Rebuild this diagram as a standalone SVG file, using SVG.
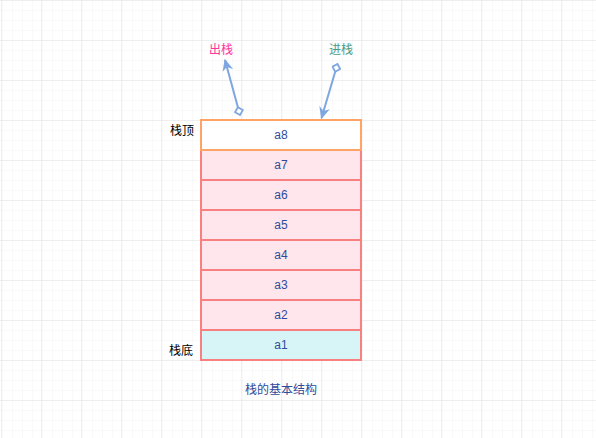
<svg xmlns="http://www.w3.org/2000/svg" width="596" height="438" viewBox="0 0 596 438">
<defs>
<pattern id="minor" width="10" height="10" patternUnits="userSpaceOnUse" x="1" y="0">
<path d="M0 0H10M0 0V10" fill="none" stroke="#f3f3f3" stroke-width="1"/>
</pattern>
<pattern id="major" width="40" height="40" patternUnits="userSpaceOnUse" x="1" y="0">
<rect width="40" height="40" fill="url(#minor)"/>
<path d="M0 0H40M0 0V40" fill="none" stroke="#e2e2e2" stroke-width="1"/>
</pattern>
<marker id="arr" viewBox="0 0 10 10" refX="9" refY="5" markerWidth="6" markerHeight="6" orient="auto" markerUnits="strokeWidth">
<path d="M0 0.5L10 5L0 9.5L3 5Z" fill="#7EA6E0"/>
</marker>
<marker id="dia" viewBox="0 0 10 10" refX="1" refY="5" markerWidth="5" markerHeight="5" orient="auto" markerUnits="strokeWidth">
<path d="M1 5L5 1L9 5L5 9Z" fill="#ffffff" stroke="#7EA6E0" stroke-width="1.8"/>
</marker>
</defs>
<style>
text{font-family:"Liberation Sans","Noto Sans CJK SC",sans-serif;font-size:12px;text-anchor:middle;dominant-baseline:central}
.cell{stroke:#F88080;stroke-width:2;fill:#FFE6EC}
.t{fill:#2F4A9A}
.edge{stroke:#7EA6E0;stroke-width:2;fill:none}
</style>
<rect width="596" height="438" fill="#ffffff"/>
<rect width="596" height="438" fill="url(#major)"/>
<g id="connectors">
<path class="edge" d="M240 115L225 60" marker-start="url(#dia)" marker-end="url(#arr)"/>
<path class="edge" d="M337.5 64L321.5 118" marker-start="url(#dia)" marker-end="url(#arr)"/>
</g>
<g id="a7"><rect class="cell" x="201" y="150" width="160" height="30"/><text class="t" x="281" y="165">a7</text></g>
<g id="a6"><rect class="cell" x="201" y="180" width="160" height="30"/><text class="t" x="281" y="195">a6</text></g>
<g id="a5"><rect class="cell" x="201" y="210" width="160" height="30"/><text class="t" x="281" y="225">a5</text></g>
<g id="a4"><rect class="cell" x="201" y="240" width="160" height="30"/><text class="t" x="281" y="255">a4</text></g>
<g id="a3"><rect class="cell" x="201" y="270" width="160" height="30"/><text class="t" x="281" y="285">a3</text></g>
<g id="a2"><rect class="cell" x="201" y="300" width="160" height="30"/><text class="t" x="281" y="315">a2</text></g>
<g id="a1"><rect class="cell" x="201" y="330" width="160" height="30" style="fill:#D7F5F7"/><text class="t" x="281" y="345">a1</text></g>
<g id="a8"><rect x="201" y="120" width="160" height="30" fill="#ffffff" stroke="#FFA366" stroke-width="2"/><text class="t" x="281" y="135">a8</text></g>
<g id="label-pop"><text x="221" y="50" fill="#FF3399">出栈</text></g>
<g id="label-push"><text x="341" y="50" fill="#4C9A86">进栈</text></g>
<g id="label-top"><text x="182" y="131" fill="#000000">栈顶</text></g>
<g id="label-bottom"><text x="181" y="351" fill="#000000">栈底</text></g>
<g id="caption"><text x="281" y="390" fill="#2F4A9A">栈的基本结构</text></g>
</svg>
